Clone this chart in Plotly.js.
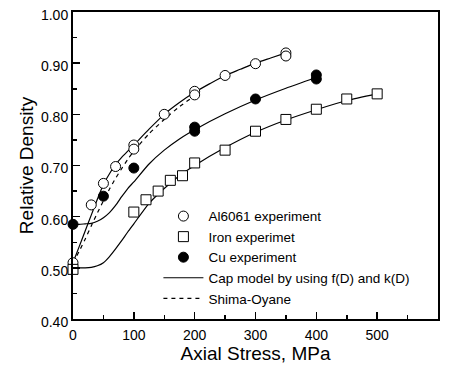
<!DOCTYPE html>
<html>
<head>
<meta charset="utf-8">
<script src="https://cdn.plot.ly/plotly-3.0.1.min.js"></script>
<style>html,body{margin:0;padding:0;background:#fff;}#chart{width:449px;height:381px;}</style>
</head>
<body>
<div id="chart"></div>
<script>
// Experimental data
const alX = [0, 30, 50, 70, 100, 100, 150, 200, 200, 250, 300, 350, 350];
const alY = [0.510, 0.623, 0.665, 0.698, 0.740, 0.732, 0.800, 0.845, 0.838, 0.876, 0.899, 0.920, 0.914];
const ironX = [0, 100, 120, 140, 160, 180, 200, 250, 300, 350, 400, 450, 500];
const ironY = [0.497, 0.609, 0.633, 0.650, 0.671, 0.680, 0.705, 0.730, 0.767, 0.790, 0.810, 0.830, 0.840];
const cuX = [0, 50, 100, 200, 200, 300, 400, 400];
const cuY = [0.585, 0.640, 0.695, 0.775, 0.767, 0.830, 0.877, 0.869];

// Cap model curves
const capAlX = [0, 10, 20, 30, 40, 50, 60, 70, 80, 90, 100, 125, 150, 175, 200, 225, 250, 275, 300, 325, 350];
const capAlY = [0.510, 0.541, 0.572, 0.603, 0.634, 0.663, 0.684, 0.702, 0.716, 0.728, 0.740, 0.771, 0.800, 0.823, 0.843, 0.860, 0.876, 0.888, 0.900, 0.910, 0.920];
const capIronX = [0, 10, 20, 30, 40, 50, 60, 70, 80, 90, 100, 125, 150, 175, 200, 250, 300, 350, 400, 450, 500];
const capIronY = [0.500, 0.500, 0.500, 0.501, 0.504, 0.510, 0.522, 0.537, 0.553, 0.570, 0.586, 0.626, 0.655, 0.680, 0.700, 0.735, 0.765, 0.789, 0.809, 0.827, 0.840];
const capCuX = [0, 10, 20, 30, 40, 50, 60, 70, 80, 90, 100, 125, 150, 175, 200, 250, 300, 350, 400];
const capCuY = [0.585, 0.585, 0.586, 0.587, 0.591, 0.598, 0.608, 0.622, 0.639, 0.655, 0.668, 0.703, 0.730, 0.752, 0.770, 0.801, 0.828, 0.851, 0.872];

// Shima-Oyane curve (Al6061)
const soX = [0, 10, 20, 30, 40, 50, 60, 70, 80, 90, 100, 125, 150, 175, 200];
const soY = [0.510, 0.532, 0.556, 0.582, 0.607, 0.631, 0.654, 0.675, 0.694, 0.712, 0.728, 0.762, 0.790, 0.815, 0.836];

const names = ['Al6061 experiment', 'Iron experimet', 'Cu experiment', 'Cap model by using f(D) and k(D)', 'Shima-Oyane'];

const solid = {color: '#000', width: 1.2, shape: 'spline', smoothing: 0.6};
const traces = [
  {x: capAlX, y: capAlY, mode: 'lines', line: solid, name: names[3], legendrank: 4},
  {x: capIronX, y: capIronY, mode: 'lines', line: solid, showlegend: false},
  {x: capCuX, y: capCuY, mode: 'lines', line: solid, showlegend: false},
  {x: soX, y: soY, mode: 'lines', line: {color: '#000', width: 1.2, dash: '4px,4px', shape: 'spline', smoothing: 0.6}, name: names[4], legendrank: 5},
  {x: alX, y: alY, mode: 'markers', name: names[0], legendrank: 1, cliponaxis: false,
   marker: {symbol: 'circle', size: 10, color: '#fff', line: {color: '#000', width: 1}}},
  {x: ironX, y: ironY, mode: 'markers', name: names[1], legendrank: 2, cliponaxis: false,
   marker: {symbol: 'square', size: 10, color: '#fff', line: {color: '#000', width: 1}}},
  {x: cuX, y: cuY, mode: 'markers', name: names[2], legendrank: 3, cliponaxis: false,
   marker: {symbol: 'circle', size: 10, color: '#000', line: {color: '#000', width: 1}}}
];

const font = 'Arial, "Liberation Sans", sans-serif';
const layout = {
  width: 449, height: 381,
  margin: {l: 72.5, r: 11.3, t: 11.5, b: 62},
  paper_bgcolor: '#fff', plot_bgcolor: '#fff',
  font: {family: font, size: 14, color: '#000'},
  showlegend: true,
  legend: {x: 0.234, y: 0.385, xanchor: 'left', yanchor: 'top', bgcolor: 'rgba(0,0,0,0)',
           font: {family: font, size: 13.5, color: '#000'}, itemwidth: 40, tracegroupgap: 0},
  xaxis: {
    range: [0, 600], dtick: 100, tick0: 0, showgrid: false, zeroline: false,
    showline: true, linecolor: '#000', linewidth: 2, mirror: true,
    ticks: 'inside', ticklen: 7, tickwidth: 1.5, tickcolor: '#000',
    minor: {dtick: 50, ticks: 'inside', ticklen: 4, tickwidth: 1.5, tickcolor: '#000', showgrid: false},
    tickfont: {family: font, size: 14, color: '#000'}, ticklabelstandoff: 2,
    title: {text: 'Axial Stress, MPa', font: {family: font, size: 19, color: '#000'}, standoff: 0}
  },
  yaxis: {
    range: [0.40, 1.00], dtick: 0.1, tick0: 0.4, tickformat: '.2f', showgrid: false, zeroline: false,
    showline: true, linecolor: '#000', linewidth: 2, mirror: true,
    ticks: 'inside', ticklen: 7, tickwidth: 1.5, tickcolor: '#000',
    minor: {dtick: 0.05, ticks: 'inside', ticklen: 4, tickwidth: 1.5, tickcolor: '#000', showgrid: false},
    tickfont: {family: font, size: 14, color: '#000'}, ticklabelshift: 3,
    title: {text: 'Relative Density', font: {family: font, size: 19, color: '#000'}, standoff: 2}
  }
};
Plotly.newPlot('chart', traces, layout, {displayModeBar: false, staticPlot: true});
</script>
</body>
</html>
